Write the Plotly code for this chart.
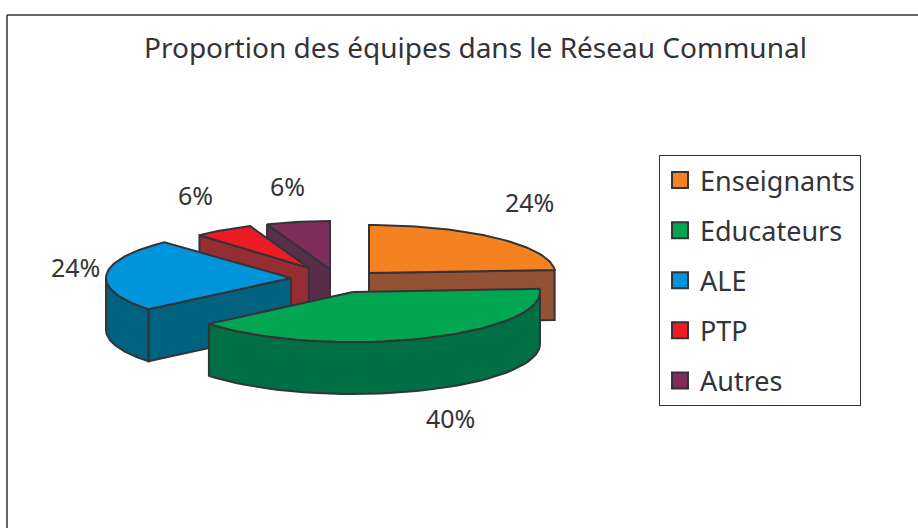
import math
import plotly.graph_objects as go

TITLE = "Proportion des équipes dans le Réseau Communal"
categories = ["Enseignants", "Educateurs", "ALE", "PTP", "Autres"]
values = [24, 40, 24, 6, 6]
top_colors = ["#F58220", "#00A651", "#0095DA", "#ED1C24", "#7F2D5A"]
side_colors = ["#945235", "#006F45", "#00627F", "#962D33", "#5A2D4A"]

# Pie projection, in page pixels (explosion of each slice, radii, thickness)
apex_x = [369, 353, 291, 309, 330]
apex_y = [273, 292, 278, 268, 269]
radius_x = [186, 187, 185, 160, 171]
radius_y = [48, 50, 49, 45, 48]
depth = [50, 52, 52, 50, 50]
label_x = [529, 450, 75, 195, 287]
label_y = [202, 418, 267, 195, 186]
draw_order = [0, 4, 3, 2, 1]

INK = "#333338"
total = sum(values)
starts = []
acc = 0
for v in values:
    starts.append(acc / total * 360)
    acc += v


def rim(i, a):
    r = math.radians(a)
    return apex_x[i] + radius_x[i] * math.sin(r), apex_y[i] - radius_y[i] * math.cos(r)


def arc(i, a0, a1, n=48):
    return [rim(i, a0 + (a1 - a0) * k / n) for k in range(n + 1)]


def poly(pts, color):
    xs = [p[0] for p in pts] + [pts[0][0]]
    ys = [p[1] for p in pts] + [pts[0][1]]
    return go.Scatter(x=xs, y=ys, mode="lines", fill="toself", fillcolor=color,
                      line=dict(color=INK, width=2), showlegend=False, hoverinfo="skip")


fig = go.Figure()
for i in draw_order:
    a0 = starts[i]
    a1 = a0 + values[i] / total * 360
    d = depth[i]
    apex = (apex_x[i], apex_y[i])
    for a, visible in ((a0, math.sin(math.radians(a0)) < 0), (a1, math.sin(math.radians(a1)) > 0)):
        if visible:
            t = rim(i, a)
            fig.add_trace(poly([apex, t, (t[0], t[1] + d), (apex[0], apex[1] + d)], side_colors[i]))
    w0, w1 = max(a0, 90), min(a1, 270)
    if w1 > w0:
        top = arc(i, w0, w1)
        fig.add_trace(poly(top + [(x, y + d) for x, y in reversed(top)], side_colors[i]))
    fig.add_trace(poly([apex] + arc(i, a0, a1), top_colors[i]))

for c, col in zip(categories, top_colors):
    fig.add_trace(go.Scatter(x=[None], y=[None], mode="markers", name=c, legendgroup=c,
                             marker=dict(symbol="square", size=17, color=col,
                                         line=dict(color=INK, width=2))))

for i, v in enumerate(values):
    fig.add_annotation(x=label_x[i], y=label_y[i], text=f"{v}%", showarrow=False,
                       font=dict(family="Noto Sans", size=25, color=INK))

fig.add_annotation(x=475, y=47, text=TITLE, showarrow=False,
                   font=dict(family="Noto Sans", size=28, color=INK))

fig.add_shape(type="line", x0=7, x1=918, y0=15, y1=15, line=dict(color=INK, width=1.5))
fig.add_shape(type="line", x0=7, x1=7, y0=15, y1=528, line=dict(color=INK, width=1.5))

fig.update_layout(
    width=918, height=528, margin=dict(l=0, r=0, t=0, b=0),
    paper_bgcolor="white", plot_bgcolor="white",
    xaxis=dict(range=[0, 918], visible=False, fixedrange=True),
    yaxis=dict(range=[528, 0], visible=False, fixedrange=True),
    legend=dict(x=659 / 918, y=1 - 155 / 528, xanchor="left", yanchor="top",
                bordercolor=INK, borderwidth=1, bgcolor="white", tracegroupgap=12,
                font=dict(family="Noto Sans", size=27, color=INK), itemwidth=30,
                entrywidth=157, entrywidthmode="pixels"),
)
fig.write_html("out.html", config={"displayModeBar": False},
               post_script="document.body.style.margin='0';")
